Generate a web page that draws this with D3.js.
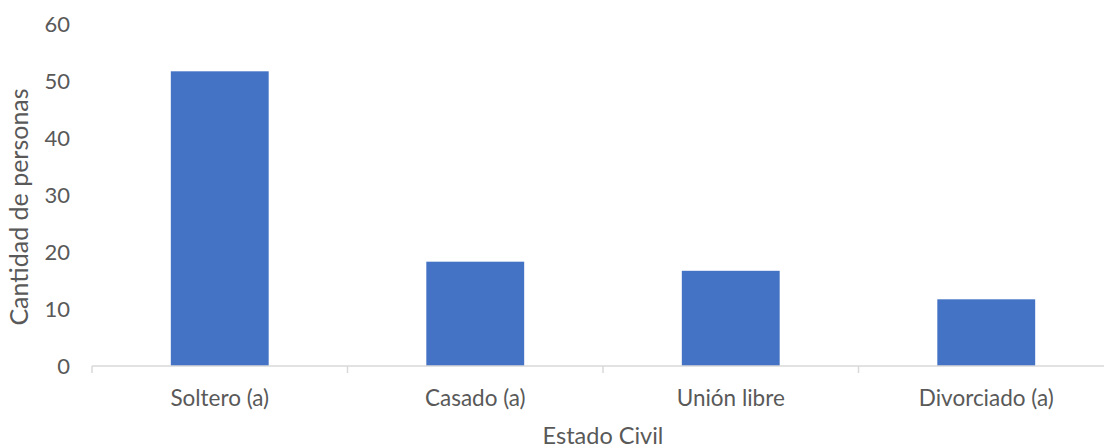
<!DOCTYPE html>
<html>
<head>
<meta charset="utf-8">
<script src="https://cdn.jsdelivr.net/npm/d3@7"></script>
<style>
  body { margin: 0; background: #fff; }
  text { font-family: Lato, "Open Sans", sans-serif; fill: #595959; }
</style>
</head>
<body>
<div id="chart"></div>
<script>
const categories = ["Soltero (a)", "Casado (a)", "Unión libre", "Divorciado (a)"];
const values = [51.7, 18.3, 16.7, 11.7];
const yTicks = [0, 10, 20, 30, 40, 50, 60];

const width = 1104;
const height = 448;
const margin = {top: 24, right: -10, bottom: 82, left: 92};

const svg = d3.select('#chart').append('svg')
  .attr('width', width)
  .attr('height', height);

// Scales
const xScale = d3.scaleBand()
  .domain(categories)
  .range([margin.left, width - margin.right])
  .paddingInner(0.617)
  .paddingOuter(0.3085);

const yScale = d3.scaleLinear()
  .domain([0, 60])
  .range([height - margin.bottom, margin.top]);

// bars
svg.selectAll('rect')
  .data(values)
  .enter().append('rect')
  .attr('x', (d, i) => xScale(categories[i]))
  .attr('y', d => yScale(d))
  .attr('width', xScale.bandwidth())
  .attr('height', d => yScale(0) - yScale(d))
  .attr('fill', '#4472c4');

// Axis
const xAxis = d3.axisBottom(xScale).tickSize(0).tickPadding(24);
const xAxisG = svg.append('g')
  .attr('transform', `translate(0, ${yScale(0)})`)
  .call(xAxis);
xAxisG.select('.domain').remove();
xAxisG.selectAll('text').style('font-size', '22.5px').attr('fill', '#595959');

svg.append('line')
  .attr('x1', margin.left)
  .attr('x2', width)
  .attr('y1', yScale(0))
  .attr('y2', yScale(0))
  .attr('stroke', '#d9d9d9')
  .attr('stroke-width', 1.5);

// small ticks between categories
const step = xScale.step();
svg.selectAll('.cat-tick')
  .data(d3.range(categories.length))
  .enter().append('line')
  .attr('class', 'cat-tick')
  .attr('x1', i => margin.left + i * step)
  .attr('x2', i => margin.left + i * step)
  .attr('y1', yScale(0))
  .attr('y2', yScale(0) + 7)
  .attr('stroke', '#d9d9d9')
  .attr('stroke-width', 1.5);

const yAxis = d3.axisLeft(yScale).tickValues(yTicks).tickSize(0).tickPadding(22);
const yAxisG = svg.append('g')
  .attr('transform', `translate(${margin.left}, 0)`)
  .call(yAxis);
yAxisG.select('.domain').remove();
yAxisG.selectAll('text').style('font-size', '22px').attr('fill', '#595959');

// titles
svg.append('text')
  .attr('x', (margin.left + width - margin.right) / 2)
  .attr('y', 444)
  .attr('text-anchor', 'middle')
  .style('font-size', '23.5px')
  .text('Estado Civil');

svg.append('text')
  .attr('transform', 'rotate(-90)')
  .attr('x', -207)
  .attr('y', 28)
  .attr('text-anchor', 'middle')
  .style('font-size', '25px')
  .text('Cantidad de personas');
</script>
</body>
</html>
